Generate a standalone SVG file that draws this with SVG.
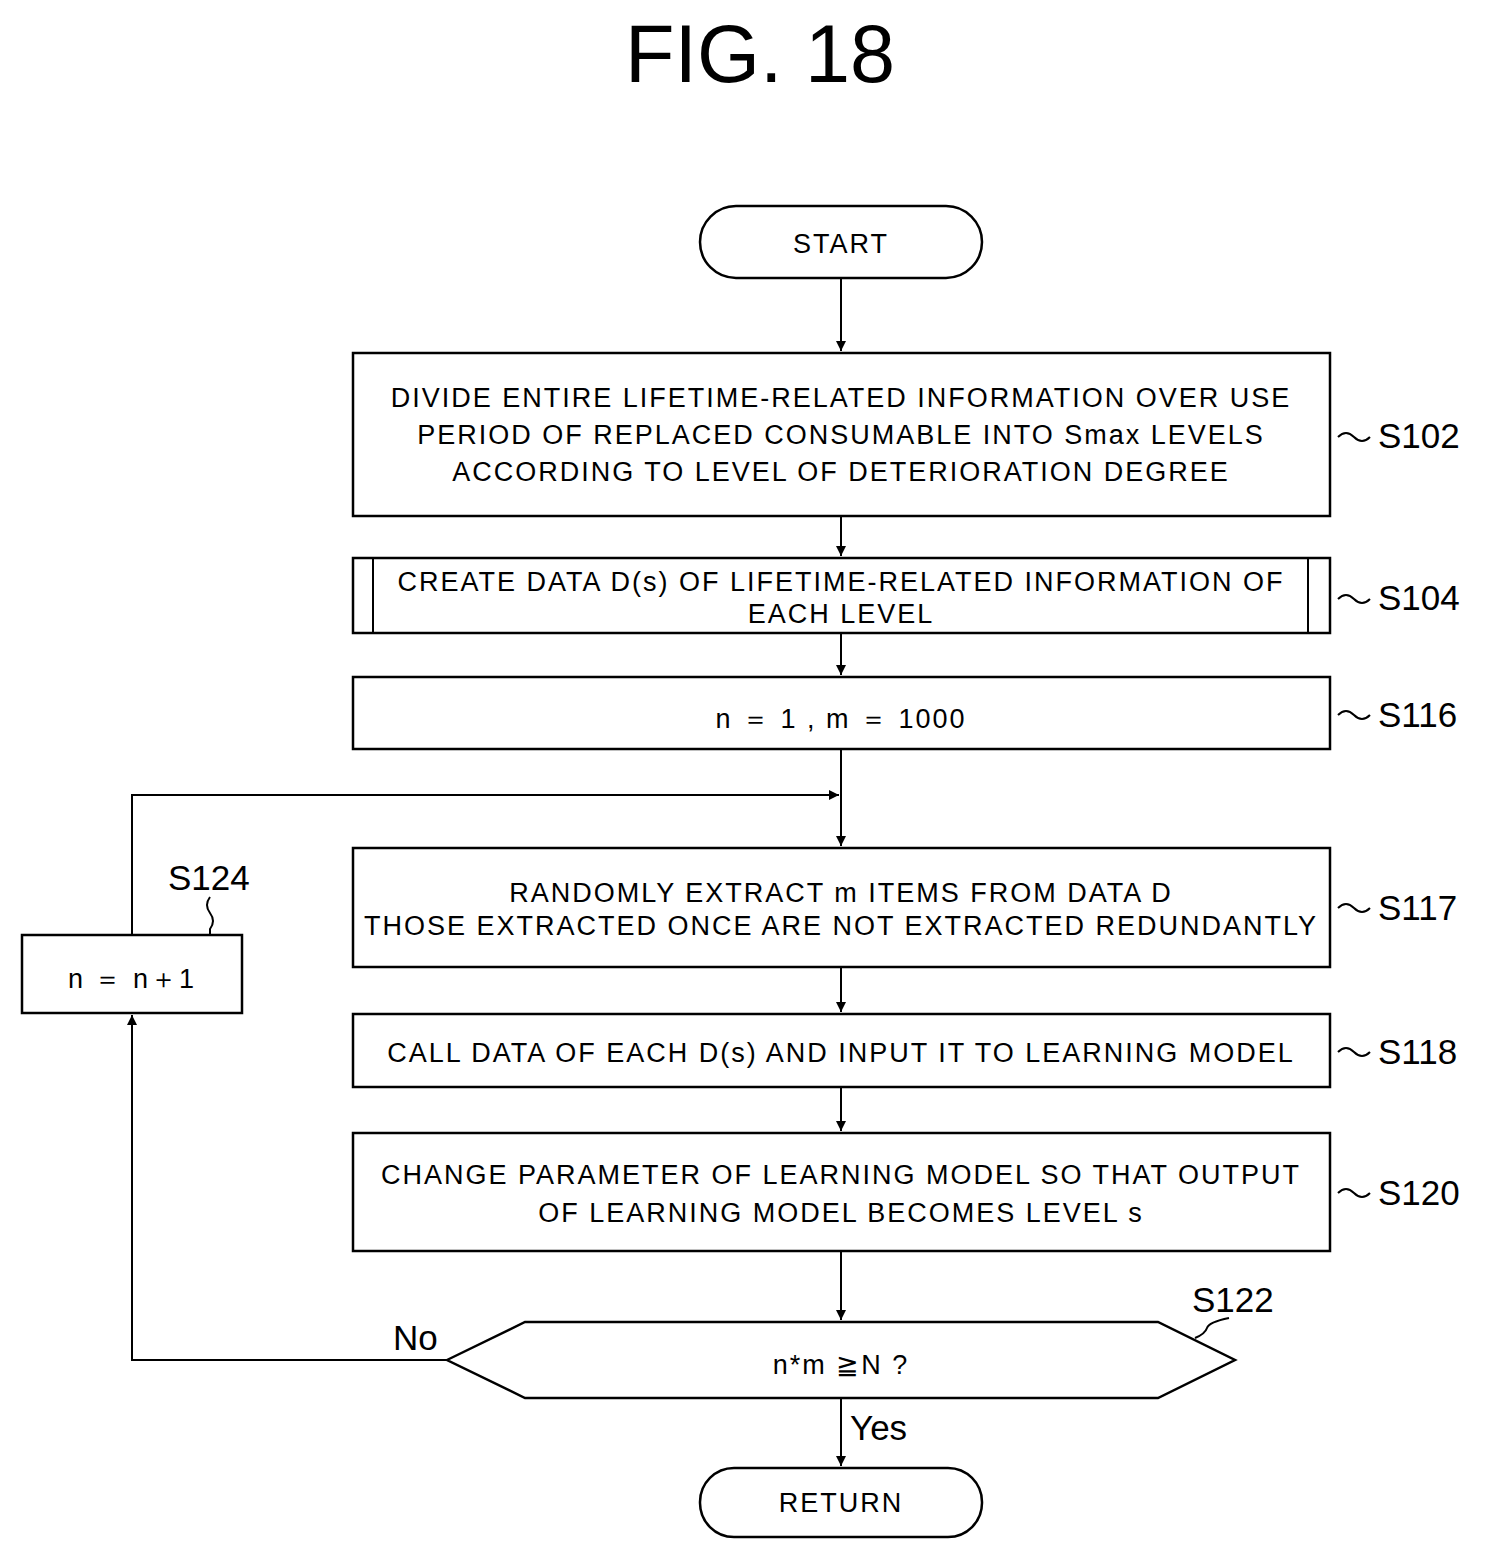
<svg xmlns="http://www.w3.org/2000/svg" width="1492" height="1561" viewBox="0 0 1492 1561">
<style>
.b{fill:#fff;stroke:#000;stroke-width:2.5}
.t{font-family:"Liberation Sans",Arial,sans-serif;font-size:27px;text-anchor:middle;fill:#000;letter-spacing:2px}
.l{font-family:"Liberation Sans",Arial,sans-serif;font-size:35px;fill:#000}
.c{fill:none;stroke:#000;stroke-width:2}
</style>
<defs><marker id="a" markerWidth="12" markerHeight="12" refX="10" refY="5" orient="auto" markerUnits="userSpaceOnUse"><path d="M0,0 L10,5 L0,10 Z" fill="#000"/></marker></defs>
<rect width="1492" height="1561" fill="#fff"/>
<text x="760" y="82" font-family="Liberation Sans,Arial,sans-serif" font-size="81" text-anchor="middle">FIG. 18</text>
<g id="connectors">
<path class="c" d="M841 278V351" marker-end="url(#a)"/>
<path class="c" d="M841 516V556" marker-end="url(#a)"/>
<path class="c" d="M841 633V675" marker-end="url(#a)"/>
<path class="c" d="M841 749V846" marker-end="url(#a)"/>
<path class="c" d="M132 935V795H839" marker-end="url(#a)"/>
<path class="c" d="M841 967V1012" marker-end="url(#a)"/>
<path class="c" d="M841 1087V1131" marker-end="url(#a)"/>
<path class="c" d="M841 1251V1320" marker-end="url(#a)"/>
<path class="c" d="M447 1360H132V1015" marker-end="url(#a)"/>
<path class="c" d="M841 1398V1466" marker-end="url(#a)"/>
<text class="l" x="393" y="1350">No</text>
<text class="l" x="850" y="1440">Yes</text>
</g>
<g id="start"><rect class="b" x="700" y="206" width="282" height="72" rx="36"/><text class="t" x="841" y="253">START</text></g>
<g id="s102"><rect class="b" x="353" y="353" width="977" height="163"/>
<text class="t" x="841" y="407">DIVIDE ENTIRE LIFETIME-RELATED INFORMATION OVER USE</text>
<text class="t" x="841" y="444">PERIOD OF REPLACED CONSUMABLE INTO Smax LEVELS</text>
<text class="t" x="841" y="481">ACCORDING TO LEVEL OF DETERIORATION DEGREE</text>
<path class="c" d="M1338 437q8-8 16 0t16 0"/><text class="l" x="1378" y="448">S102</text></g>
<g id="s104"><rect class="b" x="353" y="558" width="977" height="75"/><path class="c" d="M373 558V633M1308 558V633"/>
<text class="t" x="841" y="591">CREATE DATA D(s) OF LIFETIME-RELATED INFORMATION OF</text>
<text class="t" x="841" y="623">EACH LEVEL</text>
<path class="c" d="M1338 599q8-8 16 0t16 0"/><text class="l" x="1378" y="610">S104</text></g>
<g id="s116"><rect class="b" x="353" y="677" width="977" height="72"/>
<text class="t" x="841" y="728" font-size="38" letter-spacing="2">n  ＝  1 , m  ＝  1000</text>
<path class="c" d="M1338 715q8-8 16 0t16 0"/><text class="l" x="1378" y="727">S116</text></g>
<g id="s117"><rect class="b" x="353" y="848" width="977" height="119"/>
<text class="t" x="841" y="902">RANDOMLY EXTRACT m ITEMS FROM DATA D</text>
<text class="t" x="841" y="935">THOSE EXTRACTED ONCE ARE NOT EXTRACTED REDUNDANTLY</text>
<path class="c" d="M1338 908q8-8 16 0t16 0"/><text class="l" x="1378" y="920">S117</text></g>
<g id="s118"><rect class="b" x="353" y="1014" width="977" height="73"/>
<text class="t" x="841" y="1062">CALL DATA OF EACH D(s) AND INPUT IT TO LEARNING MODEL</text>
<path class="c" d="M1338 1052q8-8 16 0t16 0"/><text class="l" x="1378" y="1064">S118</text></g>
<g id="s120"><rect class="b" x="353" y="1133" width="977" height="118"/>
<text class="t" x="841" y="1184">CHANGE PARAMETER OF LEARNING MODEL SO THAT OUTPUT</text>
<text class="t" x="841" y="1222">OF LEARNING MODEL BECOMES LEVEL s</text>
<path class="c" d="M1338 1193q8-8 16 0t16 0"/><text class="l" x="1378" y="1205">S120</text></g>
<g id="s122"><polygon class="b" points="447,1360 525,1322 1158,1322 1235,1360 1158,1398 525,1398"/>
<text class="t" x="841" y="1374" font-size="35" letter-spacing="1">n*m ≧N ?</text>
<path class="c" d="M1195 1338q10-4 12-10t22-10"/><text class="l" x="1192" y="1312">S122</text></g>
<g id="s124"><rect class="b" x="22" y="935" width="220" height="78"/>
<text class="t" x="132" y="988" font-size="38" letter-spacing="2">n ＝ n＋1</text>
<path class="c" d="M210 897q-6 8 0 16t0 16v6"/><text class="l" x="168" y="890">S124</text></g>
<g id="return"><rect class="b" x="700" y="1468" width="282" height="69" rx="34"/><text class="t" x="841" y="1512">RETURN</text></g>
</svg>
